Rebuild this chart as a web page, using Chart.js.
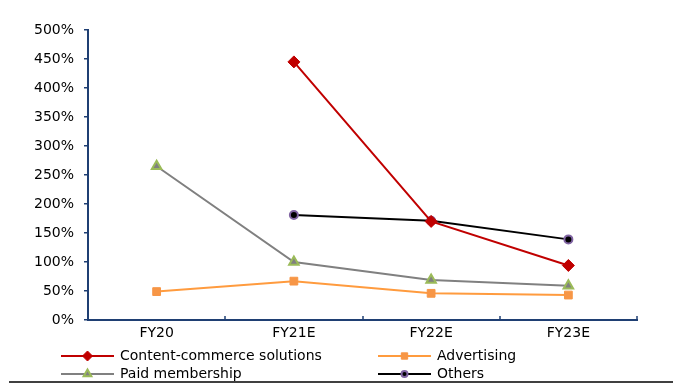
<!DOCTYPE html>
<html>
<head>
<meta charset="utf-8">
<script src="https://cdn.jsdelivr.net/npm/chart.js@4/dist/chart.umd.min.js"></script>
<style>
  html, body { margin: 0; padding: 0; background: #fff; }
  #wrap { width: 680px; height: 383px; position: relative; }
</style>
</head>
<body>
<div id="wrap"><canvas id="graph1" width="680" height="383"></canvas></div>
<script>
var labels = ['FY20', 'FY21E', 'FY22E', 'FY23E'];
var contentCommerce = [null, 445, 170, 94];
var advertising = [49, 67, 46, 43];
var paidMembership = [265, 100, 69, 59];
var others = [null, 181, 171, 139];
var yTicks = [0, 50, 100, 150, 200, 250, 300, 350, 400, 450, 500];

var axisBlue = '#1F3F73';
var fontFamily = '"DejaVu Sans", Arial, sans-serif';

var series = [
    { label: 'Content-commerce solutions', data: contentCommerce, line: '#C00000', fill: '#C00000', border: '#C00000', style: 'rectRot', r: 6, bw: 1 },
    { label: 'Advertising', data: advertising, line: '#FF9B3E', fill: '#F79646', border: '#F79646', style: 'rect', r: 5.5, bw: 1 },
    { label: 'Paid membership', data: paidMembership, line: '#808080', fill: '#808080', border: '#9BBB59', style: 'triangle', r: 5.5, bw: 2 },
    { label: 'Others', data: others, line: '#000000', fill: '#000000', border: '#8064A2', style: 'circle', r: 4, bw: 2 }
];

// legend in two columns under the axis, plus the rule at the bottom
var legendPlugin = {
    id: 'twoColLegend',
    afterDraw: function (chart) {
        var ctx = chart.ctx;
        var area = chart.chartArea;
        var w = (area.right - area.left) / labels.length;

        // small inward tick marks between categories
        ctx.save();
        ctx.strokeStyle = axisBlue;
        ctx.lineWidth = 1.5;
        for (var i = 1; i <= labels.length; i++) {
            var x = Math.round(area.left + i * w);
            ctx.beginPath();
            ctx.moveTo(x, area.bottom);
            ctx.lineTo(x, area.bottom - 4);
            ctx.stroke();
        }
        ctx.restore();

        var cols = [61, 378];
        var rows = [356, 374];
        ctx.save();
        ctx.font = '14px ' + fontFamily;
        ctx.textBaseline = 'middle';
        series.forEach(function (s, k) {
            var x0 = cols[k % 2];
            var y = rows[Math.floor(k / 2)];
            ctx.strokeStyle = s.line;
            ctx.lineWidth = 2;
            ctx.beginPath();
            ctx.moveTo(x0, y);
            ctx.lineTo(x0 + 53, y);
            ctx.stroke();
            ctx.fillStyle = s.fill;
            ctx.strokeStyle = s.border;
            ctx.lineWidth = s.bw;
            Chart.helpers.drawPoint(ctx, { pointStyle: s.style, radius: s.r - 1, rotation: 0, borderWidth: s.bw }, x0 + 26.5, y);
            ctx.fillStyle = '#000';
            ctx.fillText(s.label, x0 + 59, y);
        });
        ctx.strokeStyle = '#000';
        ctx.lineWidth = 1.5;
        ctx.beginPath();
        ctx.moveTo(9, 382);
        ctx.lineTo(673, 382);
        ctx.stroke();
        ctx.restore();
    }
};

var context = document.getElementById('graph1').getContext('2d');
var chart = new Chart(context, {
    type: 'line',
    data: {
        labels: labels,
        datasets: series.map(function (s) {
            return {
                label: s.label,
                data: s.data,
                borderColor: s.line,
                borderWidth: 2,
                backgroundColor: s.fill,
                pointStyle: s.style,
                pointRadius: s.r,
                pointBackgroundColor: s.fill,
                pointBorderColor: s.border,
                pointBorderWidth: s.bw,
                tension: 0,
                spanGaps: false
            };
        })
    },
    options: {
        responsive: false,
        animation: false,
        layout: { padding: { left: 0, right: 43, top: 30, bottom: 0 } },
        plugins: {
            legend: { display: false },
            tooltip: { enabled: false }
        },
        scales: {
            x: {
                offset: true,
                grid: { offset: true, drawOnChartArea: false, drawTicks: false },
                border: { color: axisBlue, width: 2 },
                ticks: { color: '#000', padding: 5, font: { family: fontFamily, size: 14 } },
                afterFit: function (s) { s.height = 63; }
            },
            y: {
                min: 0,
                max: 500,
                afterBuildTicks: function (s) {
                    s.ticks = yTicks.map(function (v) { return { value: v }; });
                },
                grid: { drawOnChartArea: false, drawTicks: true, tickLength: 4, color: axisBlue, lineWidth: 1.5 },
                border: { color: axisBlue, width: 2 },
                ticks: {
                    color: '#000',
                    padding: 10,
                    font: { family: fontFamily, size: 14 },
                    callback: function (v) { return v + '%'; }
                },
                afterFit: function (s) { s.width = 88; }
            }
        }
    },
    plugins: [legendPlugin]
});
</script>
</body>
</html>
